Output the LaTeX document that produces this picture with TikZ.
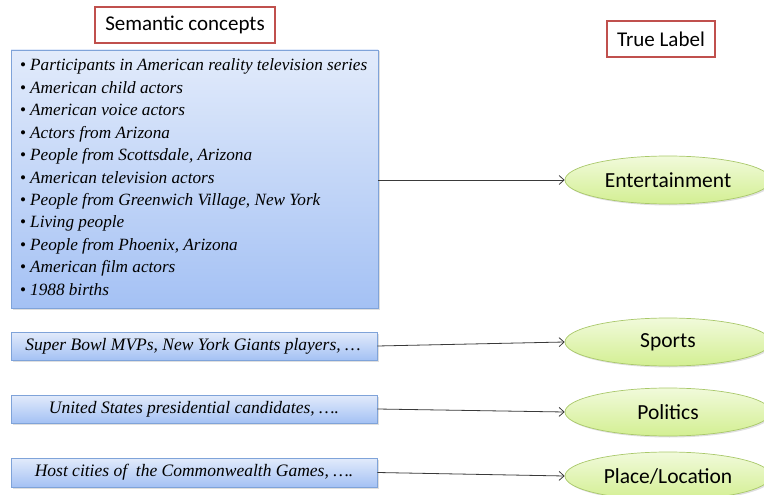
\documentclass[tikz,border=0pt]{standalone}
\usepackage{fontspec}
\usetikzlibrary{shapes.geometric,shadows,arrows.meta}
\newfontfamily\calfont{Carlito}
\newfontfamily\serfont{Liberation Serif}
\definecolor{redbd}{HTML}{C0504D}
\definecolor{bluebd}{HTML}{7FA3D9}
\definecolor{bluetop}{HTML}{E2EBFB}
\definecolor{bluebot}{HTML}{A4C1F4}
\definecolor{greentop}{HTML}{F1FADB}
\definecolor{greenbot}{HTML}{D3EF92}
\definecolor{greenbd}{HTML}{A9C86A}
\definecolor{arrowc}{HTML}{3A3A3A}
\tikzset{
  titlebox/.style={draw=redbd, line width=1.3pt, fill=white, inner sep=0pt, font=\calfont\fontsize{21}{24}\selectfont},
  conceptbox/.style={draw=bluebd, line width=0.7pt, top color=bluetop, bottom color=bluebot, inner sep=0pt,
    drop shadow={opacity=0.25, shadow xshift=1.5pt, shadow yshift=-1.5pt}},
  labelnode/.style={ellipse, draw=greenbd, line width=0.7pt, top color=greentop, bottom color=greenbot,
    minimum width=206pt, minimum height=48pt, inner sep=0pt, font=\calfont\fontsize{21.5}{24}\selectfont,
    drop shadow={opacity=0.25, shadow xshift=1.5pt, shadow yshift=-1.5pt}},
  conn/.style={draw=arrowc, line width=0.8pt, -{Straight Barb[length=5pt,width=9pt]}},
  listtext/.style={font=\serfont\itshape\fontsize{17.2}{20}\selectfont, inner sep=0pt, anchor=base west},
  boxtext/.style={font=\serfont\itshape\fontsize{17.5}{20}\selectfont, inner sep=0pt}
}
\newcommand{\bul}{\makebox[10pt][l]{\upshape•}}
\begin{document}
\begin{tikzpicture}[x=1pt,y=-1pt]
\useasboundingbox (0,0) rectangle (764,495);
% titles
\node[titlebox, minimum width=180pt, minimum height=36pt] (sc) at (185,25) {Semantic concepts};
\node[titlebox, minimum width=108pt, minimum height=36pt] (tl) at (661,39) {True Label};
% big box
\node[conceptbox, minimum width=367pt, minimum height=258pt] (big) at (194.5,179) {};
\node[listtext] (l1) at (20,71) {\bul Participants in American reality television series};
\node[listtext] (l2) at (20,93.4) {\bul American child actors};
\node[listtext] (l3) at (20,115.8) {\bul American voice actors};
\node[listtext] (l4) at (20,138.2) {\bul Actors from Arizona};
\node[listtext] (l5) at (20,160.6) {\bul People from Scottsdale, Arizona};
\node[listtext] (l6) at (20,183) {\bul American television actors};
\node[listtext] (l7) at (20,205.4) {\bul People from Greenwich Village, New York};
\node[listtext] (l8) at (20,227.8) {\bul Living people};
\node[listtext] (l9) at (20,250.2) {\bul People from Phoenix, Arizona};
\node[listtext] (l10) at (20,272.6) {\bul American film actors};
\node[listtext] (l11) at (20,295) {\bul 1988 births};
% small boxes
\node[conceptbox, minimum width=366pt, minimum height=28pt] (b1) at (194,346) {};
\node[boxtext] (t1) at (193,346) {Super Bowl MVPs, New York Giants players, \dots};
\node[conceptbox, minimum width=366pt, minimum height=28pt] (b2) at (194,409) {};
\node[boxtext] (t2) at (194,409) {United States presidential candidates, \dots.};
\node[conceptbox, minimum width=366pt, minimum height=29pt] (b3) at (194,472.5) {};
\node[boxtext] (t3) at (194,472.5) {Host cities of \ the Commonwealth Games, \dots.};
% labels
\node[labelnode] (ent) at (668,180) {Entertainment};
\node[labelnode] (spo) at (668,342) {Sports};
\node[labelnode] (pol) at (668,412) {Politics};
\node[labelnode] (plc) at (668,476) {Place/Location};
% connectors
\draw[conn] (big.east |- ent.west) -- (ent.west);
\draw[conn] (b1.east) -- (spo.west);
\draw[conn] (b2.east) -- (pol.west);
\draw[conn] (b3.east) -- (plc.west);
\end{tikzpicture}
\end{document}
